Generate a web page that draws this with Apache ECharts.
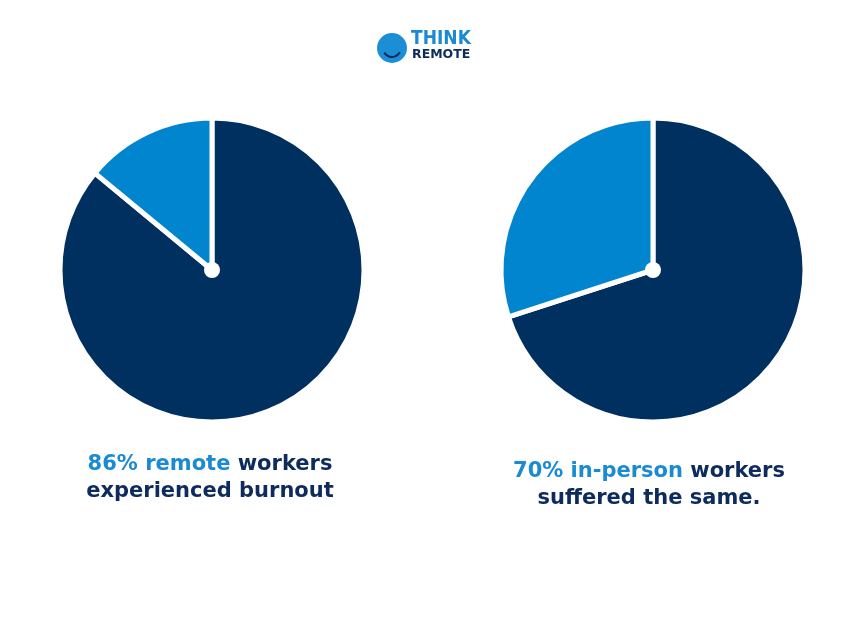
<!DOCTYPE html>
<html>
<head>
<meta charset="utf-8">
<script src="https://cdn.jsdelivr.net/npm/echarts@6/dist/echarts.min.js"></script>
<style>html,body{margin:0;padding:0;background:#fff;}#c{width:850px;height:638px;}</style>
</head>
<body>
<div id="c"></div>
<script>
const categories = ['Experienced burnout', 'Did not'];
const remoteValues = [86, 14];
const inPersonValues = [70, 30];
const captions = [
  { pct: '86% remote', rest: ' workers', line2: 'experienced burnout' },
  { pct: '70% in-person', rest: ' workers', line2: 'suffered the same.' }
];

const DARK = '#00305F';
const LIGHT = '#0285CF';
const TXT_DARK = '#0D2B5C';
const TXT_LIGHT = '#1A8AD3';
const FONT = 'DejaVu Sans';

function pieSeries(values, cx) {
  return [{
    type: 'pie',
    center: [cx, 270],
    radius: [0, 152],
    startAngle: 90,
    clockwise: true,
    silent: true,
    label: { show: false },
    labelLine: { show: false },
    itemStyle: {
      borderColor: '#fff',
      borderWidth: 5
    },
    data: values.map((v, i) => ({
      name: categories[i],
      value: v,
      itemStyle: { color: i === 0 ? DARK : LIGHT }
    }))
  }, {
    type: 'pie',
    center: [cx, 270],
    radius: [0, 8],
    silent: true,
    label: { show: false },
    labelLine: { show: false },
    itemStyle: { color: '#fff' },
    data: [{ name: 'cap', value: 1 }],
    z: 5
  }];
}

function caption(c, cx, top) {
  return {
    left: cx,
    top: top,
    textAlign: 'center',
    text: '{a|' + c.pct + '}{b|' + c.rest + '}\n{b|' + c.line2 + '}',
    textStyle: {
      rich: {
        a: { color: TXT_LIGHT, fontFamily: FONT, fontWeight: 'bold', fontSize: 21, lineHeight: 27 },
        b: { color: TXT_DARK, fontFamily: FONT, fontWeight: 'bold', fontSize: 21, lineHeight: 27 }
      }
    }
  };
}

const chart = echarts.init(document.getElementById('c'), null, { renderer: 'canvas' });
chart.setOption({
  backgroundColor: '#fff',
  animation: false,
  title: [caption(captions[0], 205, 446), caption(captions[1], 644, 453)],
  series: [...pieSeries(remoteValues, 212), ...pieSeries(inPersonValues, 653)],
  graphic: [
    { type: 'circle', shape: { cx: 392, cy: 48, r: 15 }, style: { fill: '#1B8ED6' } },
    { type: 'arc', shape: { cx: 392, cy: 48, r: 9, startAngle: 0.5, endAngle: 2.6 }, style: { stroke: '#0D2B5C', lineWidth: 2, fill: null } },
    { type: 'text', left: 411, top: 30, style: { text: 'THINK', fill: TXT_LIGHT, font: 'bold 19px "DejaVu Sans Condensed", "DejaVu Sans"' } },
    { type: 'text', left: 412, top: 48, style: { text: 'REMOTE', fill: TXT_DARK, font: 'bold 12.5px "DejaVu Sans"' } }
  ]
});
</script>
</body>
</html>
